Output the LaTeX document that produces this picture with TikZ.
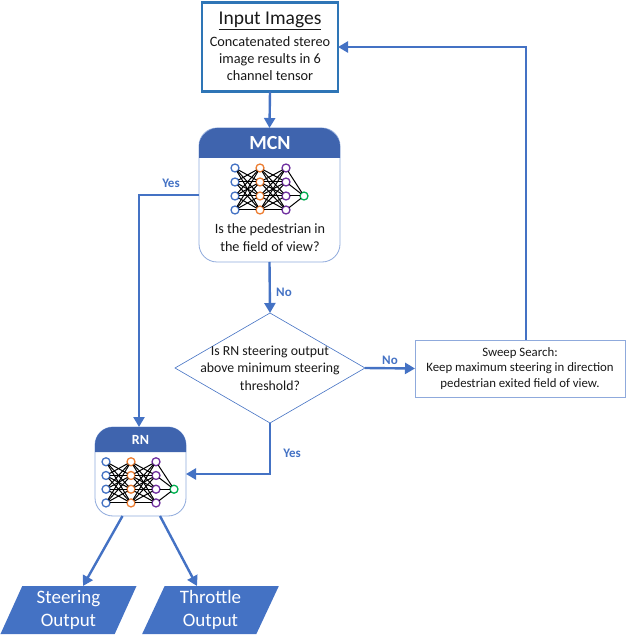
\documentclass[tikz,border=0pt]{standalone}
\usepackage{fontspec}
\setmainfont{Carlito}
\usetikzlibrary{shapes.geometric,arrows.meta,calc}
\definecolor{flow}{HTML}{4472C4}
\definecolor{hdr}{HTML}{3F64AE}
\definecolor{thin}{HTML}{8FAADC}
\definecolor{inbox}{HTML}{2E75B6}
\definecolor{netblue}{HTML}{4472C4}
\definecolor{netorange}{HTML}{ED7D31}
\definecolor{netpurple}{HTML}{7030A0}
\definecolor{netgreen}{HTML}{00B050}
\tikzset{
  every node/.style={outer sep=0pt,inner sep=0pt,font=\fontsize{14}{16}\selectfont,text=black!90},
  flowline/.style={draw=flow,line width=2.4pt,-{Triangle[length=10pt,width=11pt]}},
  lab/.style={font=\fontsize{13}{15}\selectfont\bfseries,text=flow},
  card/.style={draw=thin,line width=0.8pt,rounded corners=18pt,fill=white},
  neuron/.style={circle,draw=#1,line width=1.3pt,fill=white,minimum size=8pt},
  wire/.style={draw=black,line width=1pt},
  outbox/.style={trapezium,trapezium left angle=69,trapezium right angle=111,fill=flow,minimum width=137pt,minimum height=48pt,trapezium stretches=true,align=center,text=white,font=\fontsize{19}{23}\selectfont},
}
% net: prefix, four column x values, first y, y step
\newcommand{\drawnet}[6]{%
  \foreach \r in {0,1,2,3} {
    \node[neuron=netblue] (#1a\r) at (#2,{#6+\r*14}) {};
    \node[neuron=netorange] (#1b\r) at (#3,{#6+\r*14}) {};
    \node[neuron=netpurple] (#1c\r) at (#4,{#6+\r*14}) {};
  }
  \node[neuron=netgreen] (#1d) at (#5,{#6+2*14}) {};
  \foreach \i in {0,1,2,3} {
    \foreach \j in {0,1,2,3} {
      \ifnum\numexpr\i+\j\relax>0
        \draw[wire] (#1a\i) -- (#1b\j);
        \draw[wire] (#1b\i) -- (#1c\j);
      \fi
    }
    \draw[wire] (#1c\i) -- (#1d);
  }
}
\begin{document}
\begin{tikzpicture}[x=1pt,y=-1pt]
\useasboundingbox (0,0) rectangle (640,636);

% Input box
\node[draw=inbox,line width=2.6pt,fill=white,minimum width=136pt,minimum height=89pt] (input) at (270,47) {};
\node[font=\fontsize{19.5}{21}\selectfont] (inputtitle) at (270,21) {\underline{Input Images}};
\node[align=center,font=\fontsize{14.3}{17.2}\selectfont] (inputtext) at (270,58.5) {Concatenated stereo\\image results in 6\\channel tensor};

% MCN
\node[card,minimum width=141pt,minimum height=134pt] (mcn) at (269.5,195) {};
\fill[hdr] (199,158) -- (199,146) .. controls (199,136) and (209,128) .. (217,128) -- (322,128) .. controls (330,128) and (340,136) .. (340,146) -- (340,158) -- cycle;
\node[font=\fontsize{20}{22}\selectfont\bfseries,text=white] (mcntitle) at (270,143) {MCN};
\drawnet{m}{235}{260}{286}{304}{168}
\node[align=center,font=\fontsize{14.2}{18}\selectfont] (mcntext) at (270,238) {Is the pedestrian in\\the field of view?};

% RN
\node[card,minimum width=91pt,minimum height=89pt] (rn) at (140.5,471.5) {};
\fill[hdr] (95,452) -- (95,445) .. controls (95,435) and (103,427) .. (113,427) -- (168,427) .. controls (178,427) and (186,435) .. (186,445) -- (186,452) -- cycle;
\node[font=\fontsize{14}{15}\selectfont\bfseries,text=white] (rntitle) at (140.5,440) {RN};
\begin{scope}[y=-0.98pt,shift={(0,9.2)}]
\drawnet{r}{106}{131}{156}{174}{462}
\end{scope}

% Decision
\node[diamond,draw=flow,line width=0.6pt,fill=white,minimum width=190pt,minimum height=110pt,aspect=1.727,
  label={[align=center,font=\fontsize{13.8}{17.5}\selectfont]center:Is RN steering output\\above minimum steering\\threshold?}] (dec) at (270,368) {};

% Sweep search
\node[draw=thin,line width=0.7pt,fill=white,minimum width=210pt,minimum height=57pt,align=center,font=\fontsize{12.8}{15.5}\selectfont] (sweep) at (520,368.5) {Sweep Search:\\Keep maximum steering in direction\\pedestrian exited field of view.};

% Outputs
\node[outbox] (steer) at (68.5,610) {Steering\\Output};
\node[outbox] (throttle) at (210.5,610) {Throttle\\Output};

% Connectors
\draw[flowline] (input.south) -- (mcn.north);
\draw[flowline] (mcn.south) -- (dec.north);
\draw[flowline] (mcn.west) -| ([xshift=-1.5pt]rn.north);
\draw[flowline] (dec.east) -- (sweep.west);
\draw[flowline] ([xshift=6pt]sweep.north) |- (input.east);
\draw[flowline] (dec.south) |- ([yshift=-2.5pt]rn.east);
\draw[flowline] ([xshift=-18pt]rn.south) -- ([xshift=14.5pt]steer.north);
\draw[flowline] ([xshift=19.5pt]rn.south) -- ([xshift=-13.5pt]throttle.north);

% Labels
\node[lab] (l1) at (171,183) {Yes};
\node[lab] (l2) at (284,292) {No};
\node[lab] (l3) at (390,360) {No};
\node[lab] (l4) at (292,453) {Yes};
\end{tikzpicture}
\end{document}
